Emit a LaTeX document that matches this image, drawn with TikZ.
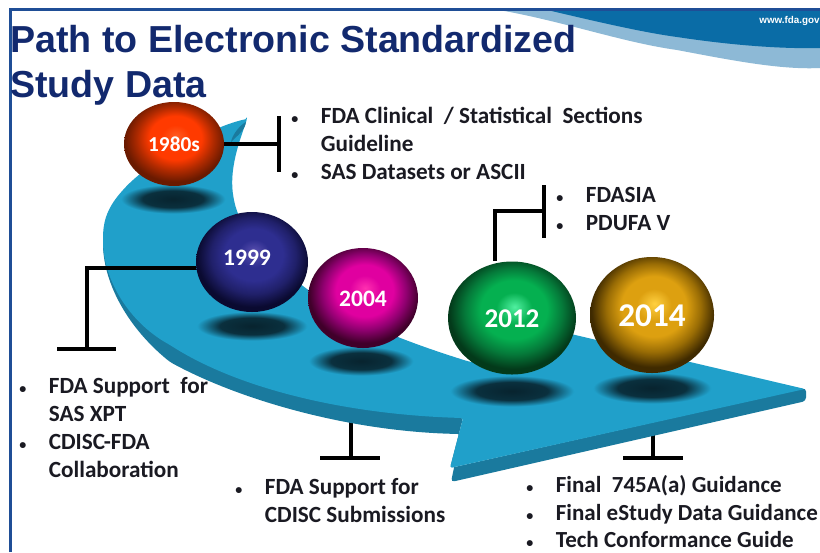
\documentclass[tikz,border=0pt]{standalone}
\usepackage{fontspec}
\usepackage{xcolor}
\usetikzlibrary{shapes.geometric, fadings}
\setmainfont{Liberation Sans}
\newfontfamily\bodyfont{Carlito}

\definecolor{framecol}{HTML}{1F4E96}
\definecolor{titlecol}{HTML}{12296E}
\definecolor{wavedark}{HTML}{0A6CA6}
\definecolor{wavelight}{HTML}{8DB9D6}
\definecolor{pathtop}{HTML}{20A0CA}
\definecolor{pathside}{HTML}{1A7A9E}
\definecolor{listcol}{HTML}{1A1A22}
\definecolor{spotcol}{HTML}{08242F}

% Ball shadings
\newcommand{\newballshade}[6]{%
  \definecolor{#1a}{HTML}{#2}\definecolor{#1b}{HTML}{#3}%
  \definecolor{#1c}{HTML}{#4}\definecolor{#1d}{HTML}{#5}\definecolor{#1e}{HTML}{#6}%
  \pgfdeclareradialshading{#1}{\pgfpoint{1bp}{5bp}}{
    color(0bp)=(#1a); color(7bp)=(#1b); color(13bp)=(#1b);
    color(19bp)=(#1c); color(25bp)=(#1d); color(27bp)=(#1d);
    color(31bp)=(#1e); color(50bp)=(#1e)}}
\newballshade{ballred}{FF5A20}{FF3A00}{B02A00}{6A1A00}{FF5A20}
\newballshade{ballblue}{5A50B0}{2E2E90}{20206A}{0A0A30}{6A55B0}
\newballshade{ballpink}{FF30B0}{E000A0}{900070}{40002A}{FF40C0}
\newballshade{ballgreen}{50F0A0}{05B050}{057A3A}{033A1A}{40E090}
\newballshade{ballgold}{FFD040}{DDA010}{9A6D05}{3F2A00}{F0C030}

% Soft edges
\pgfdeclareradialshading{softspotshade}{\pgfpointorigin}{
  color(0bp)=(white); color(14bp)=(white!90!black); color(24bp)=(black); color(50bp)=(black)}
\pgfdeclarefading{softspot}{\pgfuseshading{softspotshade}}

\newcommand{\bul}{\makebox[16.8pt][l]{\fontsize{8}{8}\selectfont\textbullet}}
\newcommand{\cont}{\hspace*{16.8pt}}

\begin{document}
\begin{tikzpicture}[
    x=0.02cm, y=-0.02cm,
    ball/.style={
        ellipse, inner sep=0pt,
        text=white,
        shading=#1
    },
    spot/.style={
        ellipse, inner sep=0pt,
        fill=spotcol,
        path fading=softspot
    },
    liner/.style={line width=2pt, black},
    listing/.style={
        anchor=north west, align=left, inner sep=0pt,
        text=listcol,
        font=\bodyfont\bfseries\fontsize{13.2}{15.9}\selectfont
    },
    heading/.style={
        anchor=base west, inner sep=0pt,
        text=titlecol,
        font=\bfseries\fontsize{21.4}{24}\selectfont
    }
]
\useasboundingbox (0,0) rectangle (820,552);
\fill[white] (0,0) rectangle (820,552);

% Header wave
\fill[wavelight] (493,9) .. controls (560,20) and (620,42) .. (677,50)
    .. controls (730,60) and (780,70) .. (820,68) -- (820,9) -- cycle;
\fill[wavedark] (543,9) .. controls (590,20) and (640,32) .. (677,37)
    .. controls (730,45) and (780,49) .. (820,48) -- (820,9) -- cycle;

% Frame
\draw[framecol, line width=1.3pt] (10.5,552) -- (10.5,9.5) -- (820,9.5);

% Title
\node[heading] (title1) at (10,52) {Path to Electronic Standardized};
\node[heading] (title2) at (10,97) {Study Data};
\node[anchor=east, inner sep=0pt, text=white, font=\bfseries\fontsize{5.6}{7}\selectfont] (site) at (820,21) {www.fda.gov};

% Connectors behind the path
\coordinate (cdiscstem) at (351,415);
\coordinate (cdiscbar) at (351,458);
\coordinate (cdiscl) at (320,458);
\coordinate (cdiscr) at (380,458);
\coordinate (guidestem) at (653,425);
\coordinate (guidebar) at (653,458);
\coordinate (guidel) at (623,458);
\coordinate (guider) at (683,458);
\draw[liner] (cdiscstem) -- (cdiscbar);
\draw[liner] (cdiscl) -- (cdiscr);
\draw[liner] (guidestem) -- (guidebar);
\draw[liner] (guidel) -- (guider);

% Path side
\fill[pathside, rounded corners=2pt] (103,240) .. controls (103,280) and (125,325) .. (170,362)
    .. controls (240,400) and (350,432) .. (461,434)
    -- (451,482) -- (806,401) -- (806,388) -- (450,468) -- (463,418) -- cycle;

% Path top face
\fill[pathtop, rounded corners=1pt] (247,119) .. controls (215,125) and (150,160) .. (123,190)
    .. controls (105,210) and (103,225) .. (103,240)
    .. controls (103,275) and (125,320) .. (170,345)
    .. controls (240,390) and (350,415) .. (463,418)
    -- (450,468) -- (805,389) -- (520,322) -- (500,368)
    -- (467,361) .. controls (400,340) and (345,318) .. (303,286)
    .. controls (270,262) and (240,230) .. (234,200)
    .. controls (228,170) and (240,140) .. (247,119) -- cycle;
\fill[pathside] (246,122) .. controls (240,125) and (232,135) .. (231,142)
    .. controls (238,135) and (245,130) .. (246,122) -- cycle;

% Shadows
\node[spot, minimum width=108*0.02cm, minimum height=30*0.02cm] (shade1980) at (173,199) {};
\node[spot, minimum width=114*0.02cm, minimum height=30*0.02cm] (shade1999) at (252,326) {};
\node[spot, minimum width=108*0.02cm, minimum height=30*0.02cm] (shade2004) at (361,361) {};
\node[spot, minimum width=128*0.02cm, minimum height=32*0.02cm] (shade2012) at (512,391) {};
\node[spot, minimum width=122*0.02cm, minimum height=32*0.02cm] (shade2014) at (652,388) {};

% Balls
\node[ball=ballred, minimum width=100*0.02cm, minimum height=84*0.02cm] (y1980) at (174,144) {};
\node[ball=ballblue, minimum width=112*0.02cm, minimum height=100*0.02cm] (y1999) at (252,262) {};
\node[ball=ballpink, minimum width=110*0.02cm, minimum height=100*0.02cm] (y2004) at (363,298) {};
\node[ball=ballgreen, minimum width=128*0.02cm, minimum height=113*0.02cm] (y2012) at (512,318) {};
\node[ball=ballgold, minimum width=124*0.02cm, minimum height=116*0.02cm] (y2014) at (652,315) {};

% Ball labels
\node[inner sep=0pt, text=white, font=\bodyfont\bfseries\fontsize{12.1}{14}\selectfont] (l1980) at (y1980) {1980s};
\node[inner sep=0pt, text=white, font=\bodyfont\bfseries\fontsize{13.4}{14}\selectfont] (l1999) at (247,258) {1999};
\node[inner sep=0pt, text=white, font=\bodyfont\bfseries\fontsize{13.4}{14}\selectfont] (l2004) at (363,299) {2004};
\node[inner sep=0pt, text=white, font=\bodyfont\bfseries\fontsize{15.4}{16}\selectfont] (l2012) at (512,319) {2012};
\node[inner sep=0pt, text=white, font=\bodyfont\bfseries\fontsize{18.9}{20}\selectfont] (l2014) at (652,316) {2014};

% Connectors from balls
\coordinate (sasknee) at (279,144);
\coordinate (sastop) at (279,116);
\coordinate (sasbot) at (279,172);
\draw[liner] (y1980.east) -- (sasknee);
\draw[liner] (sastop) -- (sasbot);

\coordinate (xptknee) at (87,268);
\coordinate (xptbar) at (87,349);
\coordinate (xptl) at (57,349);
\coordinate (xptr) at (116,349);
\draw[liner] (y1999.west |- xptknee) -- (xptknee) -- (xptbar);
\draw[liner] (xptl) -- (xptr);

\coordinate (pdufaknee) at (495,211);
\coordinate (pdufabar) at (544,211);
\coordinate (pdufatop) at (544,185);
\coordinate (pdufabot) at (544,238);
\draw[liner] (y2012.north -| pdufaknee) -- (pdufaknee) -- (pdufabar);
\draw[liner] (pdufatop) -- (pdufabot);

% Lists
\node[listing] (listsas) at (291,107) {\bul FDA Clinical \ / Statistical \ Sections\\\cont Guideline\\\bul SAS Datasets or ASCII};
\node[listing] (listpdufa) at (556,187) {\bul FDASIA\\\bul PDUFA V};
\node[listing] (listxpt) at (19,377) {\bul FDA Support \ for\\\cont SAS XPT\\\bul CDISC-FDA\\\cont Collaboration};
\node[listing] (listcdisc) at (235,478) {\bul FDA Support for\\\cont CDISC Submissions};
\node[listing, font=\bodyfont\bfseries\fontsize{13.1}{15.7}\selectfont] (listguide) at (526,475) {\bul Final \ 745A(a) Guidance\\\bul Final eStudy Data Guidance\\\bul Tech Conformance Guide};

\end{tikzpicture}
\end{document}
